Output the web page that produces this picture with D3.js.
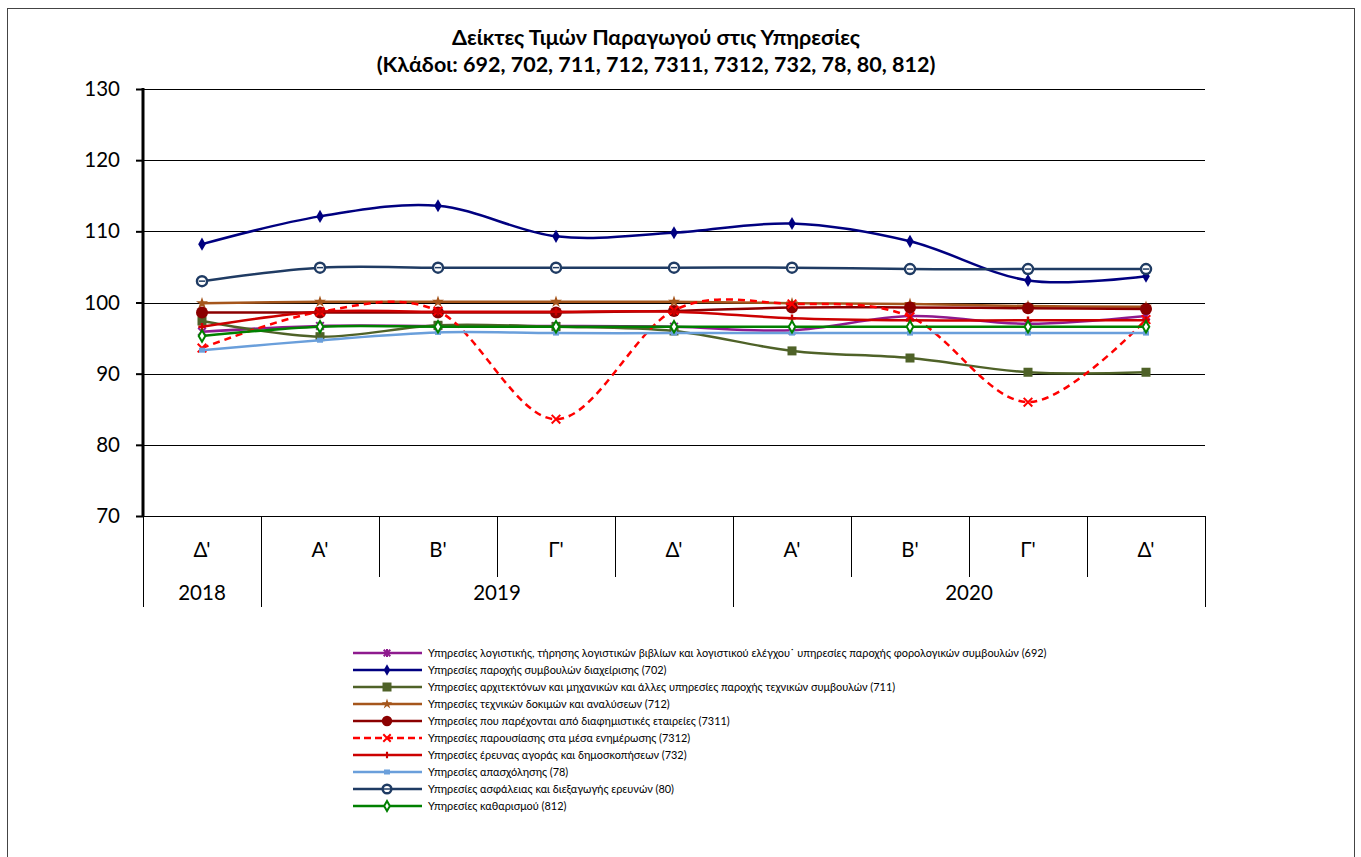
<!DOCTYPE html>
<meta charset="utf-8">
<style>
    body { margin: 0; background: white; }
    text { font-family: Lato, "Open Sans", sans-serif; }
</style>
<body>
<svg id="chart" width="1361" height="857"></svg>
<script src="https://d3js.org/d3.v7.min.js"></script>
<script>
    const quarters = ["Δ'", "Α'", "Β'", "Γ'", "Δ'", "Α'", "Β'", "Γ'", "Δ'"];
    const years = [
        { label: "2018", from: 0, to: 0 },
        { label: "2019", from: 1, to: 4 },
        { label: "2020", from: 5, to: 8 }
    ];
    const yTicks = [70, 80, 90, 100, 110, 120, 130];

    const s692 = [95.9, 96.7, 96.7, 96.7, 96.6, 96.1, 98.1, 97.0, 98.1];
    const s702 = [108.2, 112.1, 113.6, 109.3, 109.8, 111.1, 108.6, 103.1, 103.7];
    const s711 = [97.4, 95.2, 96.8, 96.6, 96.0, 93.2, 92.2, 90.2, 90.2];
    const s712 = [99.9, 100.1, 100.1, 100.1, 100.1, 99.9, 99.8, 99.5, 99.4];
    const s7311 = [98.6, 98.6, 98.6, 98.6, 98.8, 99.3, 99.3, 99.2, 99.1];
    const s7312 = [93.6, 98.7, 98.8, 83.6, 98.9, 99.8, 98.0, 86.0, 97.6];
    const s732 = [96.6, 98.7, 98.7, 98.7, 98.7, 97.8, 97.5, 97.5, 97.5];
    const s78 = [93.3, 94.7, 95.8, 95.7, 95.7, 95.7, 95.7, 95.7, 95.7];
    const s80 = [103.0, 104.9, 104.9, 104.9, 104.9, 104.9, 104.7, 104.7, 104.7];
    const s812 = [95.3, 96.6, 96.6, 96.6, 96.6, 96.6, 96.6, 96.6, 96.6];

    const series = [
        { name: "Υπηρεσίες λογιστικής, τήρησης λογιστικών βιβλίων και λογιστικού ελέγχου˙ υπηρεσίες παροχής φορολογικών συμβουλών (692)", values: s692, color: "#8E1A8E", marker: "xstar" },
        { name: "Υπηρεσίες παροχής συμβουλών διαχείρισης (702)", values: s702, color: "#000080", marker: "diamond" },
        { name: "Υπηρεσίες αρχιτεκτόνων και μηχανικών και άλλες υπηρεσίες παροχής τεχνικών συμβουλών (711)", values: s711, color: "#4F6228", marker: "square" },
        { name: "Υπηρεσίες τεχνικών δοκιμών και αναλύσεων (712)", values: s712, color: "#A5561C", marker: "star" },
        { name: "Υπηρεσίες που παρέχονται από διαφημιστικές εταιρείες (7311)", values: s7311, color: "#8B0000", marker: "circle" },
        { name: "Υπηρεσίες παρουσίασης στα μέσα ενημέρωσης (7312)", values: s7312, color: "#FF0000", marker: "x", dash: "7,5" },
        { name: "Υπηρεσίες έρευνας αγοράς και δημοσκοπήσεων (732)", values: s732, color: "#CC0000", marker: "plus" },
        { name: "Υπηρεσίες απασχόλησης (78)", values: s78, color: "#6A9FDB", marker: "dot" },
        { name: "Υπηρεσίες ασφάλειας και διεξαγωγής ερευνών (80)", values: s80, color: "#1F3B63", marker: "ring" },
        { name: "Υπηρεσίες καθαρισμού (812)", values: s812, color: "#008000", marker: "hdiamond" }
    ];

    const svg = d3.select("#chart");
    const plotLeft = 143, plotRight = 1205, plotTop = 89, plotBottom = 516;

    svg.append("rect")
        .attr("x", 7.5).attr("y", 8.5).attr("width", 1347).attr("height", 860)
        .attr("fill", "none").attr("stroke", "#444").attr("stroke-width", 1);

    const x = d3.scaleBand().domain(d3.range(quarters.length)).range([plotLeft, plotRight]);
    const y = d3.scaleLinear().domain([70, 130]).range([plotBottom, plotTop]);

    // gridlines
    svg.append("g").selectAll("line").data(yTicks).join("line")
        .attr("x1", plotLeft).attr("x2", plotRight)
        .attr("y1", d => Math.round(y(d)) + 0.5).attr("y2", d => Math.round(y(d)) + 0.5)
        .attr("stroke", "#000").attr("stroke-width", 1);

    // y axis
    const yAxis = svg.append("g")
        .attr("transform", `translate(${plotLeft},0)`)
        .call(d3.axisLeft(y).tickValues(yTicks).tickSize(7).tickPadding(16));
    yAxis.select(".domain").remove();
    yAxis.selectAll(".tick line").attr("stroke-width", 2);
    yAxis.selectAll("text").attr("font-size", 20.5).attr("fill", "#000")
        .style("font-family", "Lato, sans-serif");
    svg.append("line").attr("x1", plotLeft).attr("x2", plotLeft).attr("y1", plotTop - 1).attr("y2", plotBottom)
        .attr("stroke", "#000").attr("stroke-width", 3);

    // category axis
    const cat = svg.append("g");
    cat.selectAll("text.q").data(quarters).join("text")
        .attr("class", "q")
        .attr("x", (d, i) => x(i) + x.bandwidth() / 2)
        .attr("y", 557)
        .attr("text-anchor", "middle")
        .attr("font-size", 20.5)
        .text(d => d);
    const bounds = d3.range(quarters.length + 1);
    const longB = new Set([0, 1, 5, 9]);
    cat.selectAll("line").data(bounds).join("line")
        .attr("x1", i => Math.round(plotLeft + i * x.bandwidth()) + 0.5)
        .attr("x2", i => Math.round(plotLeft + i * x.bandwidth()) + 0.5)
        .attr("y1", plotBottom)
        .attr("y2", i => longB.has(i) ? 607 : 577)
        .attr("stroke", "#000").attr("stroke-width", 1);
    cat.selectAll("text.yr").data(years).join("text")
        .attr("class", "yr")
        .attr("x", d => (x(d.from) + x(d.to) + x.bandwidth()) / 2)
        .attr("y", 600)
        .attr("text-anchor", "middle")
        .attr("font-size", 20.5)
        .text(d => d.label);

    // title
    svg.append("text").attr("x", 656).attr("y", 45).attr("text-anchor", "middle")
        .attr("font-size", 21.5).attr("font-weight", "bold")
        .text("Δείκτες Τιμών Παραγωγού στις Υπηρεσίες");
    svg.append("text").attr("x", 656).attr("y", 72).attr("text-anchor", "middle")
        .attr("font-size", 21.5).attr("font-weight", "bold")
        .text("(Κλάδοι: 692, 702, 711, 712, 7311, 7312, 732, 78, 80, 812)");

    function drawMarker(g, type, color, cx, cy, k = 1) {
        switch (type) {
            case "diamond":
                g.append("path").attr("d", d3.symbol(d3.symbolDiamond, 50 * k)())
                    .attr("transform", `translate(${cx},${cy})`).attr("fill", color);
                break;
            case "hdiamond":
                g.append("path").attr("d", d3.symbol(d3.symbolDiamond, 38 * k)())
                    .attr("transform", `translate(${cx},${cy})`).attr("fill", "white")
                    .attr("stroke", color).attr("stroke-width", 2);
                break;
            case "square":
                g.append("rect").attr("x", cx - 4.5).attr("y", cy - 4.5).attr("width", 9).attr("height", 9)
                    .attr("fill", color);
                break;
            case "circle":
                g.append("circle").attr("cx", cx).attr("cy", cy).attr("r", 6 * Math.sqrt(k)).attr("fill", color);
                break;
            case "ring":
                g.append("circle").attr("cx", cx).attr("cy", cy).attr("r", 5 * Math.sqrt(k)).attr("fill", "white")
                    .attr("stroke", color).attr("stroke-width", 2.5);
                g.append("line").attr("x1", cx - 3).attr("x2", cx + 3).attr("y1", cy).attr("y2", cy)
                    .attr("stroke", color).attr("stroke-width", 1.5);
                break;
            case "star":
                g.append("path").attr("d", d3.symbol(d3.symbolStar, 45 * k)())
                    .attr("transform", `translate(${cx},${cy})`).attr("fill", color);
                break;
            case "x":
                g.append("path").attr("d", d3.symbol(d3.symbolX, 50 * k)())
                    .attr("transform", `translate(${cx},${cy})`).attr("fill", "none")
                    .attr("stroke", color).attr("stroke-width", 2);
                break;
            case "xstar":
                g.append("path").attr("d", d3.symbol(d3.symbolX, 40 * k)())
                    .attr("transform", `translate(${cx},${cy})`).attr("fill", "none")
                    .attr("stroke", color).attr("stroke-width", 2);
                g.append("line").attr("x1", cx).attr("x2", cx).attr("y1", cy - 4).attr("y2", cy + 4)
                    .attr("stroke", color).attr("stroke-width", 2);
                break;
            case "plus":
                g.append("path").attr("d", d3.symbol(d3.symbolCross, 30 * k)())
                    .attr("transform", `translate(${cx},${cy})`).attr("fill", color);
                break;
            case "dot":
                g.append("rect").attr("x", cx - 3).attr("y", cy - 2.5).attr("width", 6).attr("height", 5)
                    .attr("fill", color);
                break;
        }
    }

    const line = d3.line()
        .x((d, i) => x(i) + x.bandwidth() / 2)
        .y(d => y(d))
        .curve(d3.curveCatmullRom.alpha(0));

    const plot = svg.append("g");
    series.forEach(s => {
        const g = plot.append("g");
        g.append("path").datum(s.values)
            .attr("d", line)
            .attr("fill", "none")
            .attr("stroke", s.color)
            .attr("stroke-width", 2.5)
            .attr("stroke-dasharray", s.dash || null);
        s.values.forEach((v, i) => drawMarker(g, s.marker, s.color, x(i) + x.bandwidth() / 2, y(v)));
    });

    // legend
    const legend = svg.append("g");
    series.forEach((s, i) => {
        const ly = 653 + i * 17;
        const g = legend.append("g");
        g.append("line").attr("x1", 353).attr("x2", 422).attr("y1", ly).attr("y2", ly)
            .attr("stroke", s.color).attr("stroke-width", 2.5)
            .attr("stroke-dasharray", s.dash ? "7,4" : null);
        drawMarker(g, s.marker, s.color, 387, ly, 0.75);
        g.append("text").attr("x", 428).attr("y", ly + 4)
            .attr("font-size", 10.9).text(s.name);
    });
</script>
</body>
